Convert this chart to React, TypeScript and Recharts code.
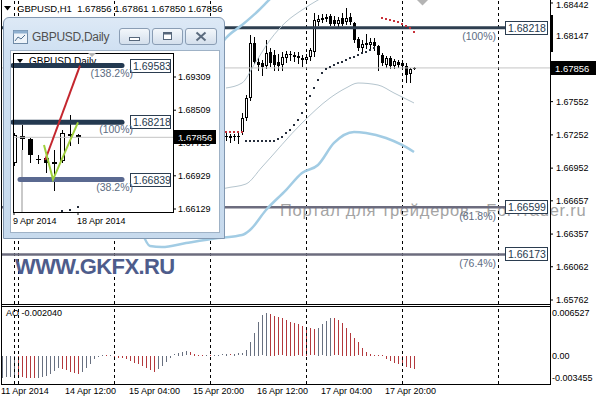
import React from 'react';
import { ComposedChart, Bar, Line, Scatter, XAxis, YAxis, ReferenceLine } from 'recharts';

const FONT = '"Liberation Sans", Arial, sans-serif';

// ================= GBPUSD H1 (main) =================
const candleIdx = [56, 57, 58, 59, 60, 61, 62, 63, 64, 65, 66, 67, 68, 69, 70, 71, 72, 73, 74, 75, 76, 77, 78, 79, 80, 81, 82, 83, 84, 85, 86, 87, 88, 89, 90, 91, 92, 93, 94, 95, 96, 97, 98, 99, 100, 101, 102, 103];
const opens = [
  1.67233, 1.67242, 1.67233, 1.67242, 1.67278, 1.67404, 1.67585, 1.68081, 1.67910, 1.67901,
  1.67874, 1.68000, 1.67973, 1.67910, 1.67883, 1.67946, 1.67973, 1.67973, 1.67964, 1.67946,
  1.67928, 1.67955, 1.68000, 1.68271, 1.68289, 1.68298, 1.68325, 1.68289, 1.68253, 1.68307,
  1.68271, 1.68316, 1.68262, 1.68117, 1.68036, 1.68081, 1.68063, 1.68090, 1.68054, 1.67973,
  1.67883, 1.67946, 1.67874, 1.67910, 1.67901, 1.67874, 1.67801, 1.67856];
const highs = [
  1.67269, 1.67260, 1.67260, 1.67278, 1.67449, 1.67612, 1.68153, 1.68135, 1.67946, 1.67928,
  1.68108, 1.68036, 1.68018, 1.67982, 1.68000, 1.68009, 1.68009, 1.68000, 1.68000, 1.67973,
  1.67982, 1.68036, 1.68352, 1.68334, 1.68343, 1.68343, 1.68343, 1.68325, 1.68316, 1.68352,
  1.68397, 1.68352, 1.68271, 1.68135, 1.68108, 1.68162, 1.68126, 1.68126, 1.68063, 1.67991,
  1.67964, 1.67964, 1.67937, 1.67928, 1.67928, 1.67901, 1.67856, 1.67861];
const lows = [
  1.67206, 1.67188, 1.67206, 1.67179, 1.67260, 1.67386, 1.67567, 1.67901, 1.67838, 1.67792,
  1.67856, 1.67874, 1.67838, 1.67838, 1.67838, 1.67910, 1.67928, 1.67919, 1.67901, 1.67874,
  1.67901, 1.67928, 1.67964, 1.68243, 1.68271, 1.68280, 1.68243, 1.68243, 1.68234, 1.68243,
  1.68253, 1.68253, 1.68090, 1.68018, 1.68000, 1.68036, 1.68036, 1.68018, 1.67838, 1.67883,
  1.67865, 1.67856, 1.67856, 1.67865, 1.67856, 1.67729, 1.67729, 1.67850];
const closes = [
  1.67242, 1.67224, 1.67242, 1.67233, 1.67404, 1.67585, 1.68081, 1.67910, 1.67883, 1.67865,
  1.67991, 1.67901, 1.67883, 1.67874, 1.67955, 1.67982, 1.67982, 1.67955, 1.67946, 1.67928,
  1.67955, 1.68018, 1.68289, 1.68298, 1.68307, 1.68316, 1.68253, 1.68253, 1.68289, 1.68253,
  1.68307, 1.68271, 1.68108, 1.68036, 1.68072, 1.68063, 1.68090, 1.68054, 1.67973, 1.67901,
  1.67946, 1.67874, 1.67919, 1.67883, 1.67874, 1.67792, 1.67847, 1.67856];

const priceTicks = [1.68442, 1.68147, 1.67552, 1.67252, 1.66952, 1.66657, 1.66357, 1.66062, 1.65762];
const priceDomain = [1.65726, 1.68469];
const lastPrice = 1.67856;
const titleText = 'GBPUSD,H1  1.67856 1.67861 1.67850 1.67856';

// Parabolic SAR
const sarDarkIdx = [61, 62, 63, 64, 65, 66, 67, 68, 69, 70, 71, 72, 73, 74, 75, 76, 77, 78, 79, 80, 81, 82, 83, 84, 85, 86, 87, 88, 89, 90, 91, 92, 93];
const sarDarkVal = [1.67197, 1.67197, 1.67197, 1.67197, 1.67197, 1.67197, 1.67197, 1.67197, 1.67215, 1.67233, 1.67269, 1.67296, 1.67341, 1.67386, 1.67449, 1.67531, 1.67603, 1.67675, 1.67747, 1.67810, 1.67846, 1.67865, 1.67883, 1.67901, 1.67910, 1.67928, 1.67946, 1.67955, 1.67973, 1.67991, 1.68000, 1.68018, 1.68036];
const sarRedIdx = [55, 56, 57, 58, 59, 60, 95, 96, 97, 98, 99, 100, 101, 102, 103];
const sarRedVal = [1.67278, 1.67278, 1.67278, 1.67278, 1.67278, 1.67278, 1.68307, 1.68298, 1.68289, 1.68280, 1.68271, 1.68253, 1.68234, 1.68216, 1.68180];

// Bollinger bands (thin & thick)
const bbThinUpIdx = [56, 60, 63, 67, 71, 75, 79, 84];
const bbThinUpVal = [1.67675, 1.67720, 1.67883, 1.68108, 1.68271, 1.68379, 1.68469, 1.68559];
const bbThinLoIdx = [54, 56, 61, 65, 75, 82, 86, 89, 94, 98, 103];
const bbThinLoVal = [1.66754, 1.66772, 1.66809, 1.66962, 1.67359, 1.67585, 1.67675, 1.67720, 1.67702, 1.67630, 1.67540];
const bbThickUpIdx = [55, 56, 60, 64, 67, 70];
const bbThickUpVal = [1.68081, 1.68126, 1.68243, 1.68370, 1.68478, 1.68577];
const bbThickLoIdx = [35, 37, 40, 46, 54, 60, 62, 66, 71, 75, 79, 83, 88, 91, 96, 100, 103];
const bbThickLoVal = [1.66375, 1.66249, 1.66240, 1.66276, 1.66321, 1.66348, 1.66394, 1.66574, 1.66754, 1.66908, 1.66980, 1.67179, 1.67278, 1.67269, 1.67224, 1.67161, 1.67097];

// Fibonacci levels
const fibLevels = [1.68218, 1.66599, 1.66173];
const fibNames = ['(100%)', '(61.8%)', '(76.4%)'];
const fibColors = ['#2e3f50', '#6c6c7e', '#6c6c7e'];
const fibWidths = [3, 2.5, 2.5];
const fibTagIdx = 125.75;

const separatorIdx = [3, 4, 28, 52, 76, 100, 124];

// ================= Awesome Oscillator =================
const aoValues = [
  -0.003455, -0.003300, -0.003150, -0.003050, -0.003150, -0.003250, -0.003320, -0.003380, -0.003420, -0.003350,
  -0.003300, -0.003000, -0.002700, -0.002300, -0.001900, -0.002000, -0.002200, -0.002400, -0.002600, -0.002700,
  -0.002400, -0.001800, -0.001200, -0.000500, -0.000100, 0.000040, 0.000030, 0.000060, -0.000150, -0.000250,
  -0.000350, -0.000450, -0.000700, -0.001000, -0.001300, -0.001600, -0.001900, -0.002200, -0.002400, -0.002000,
  -0.001500, -0.000900, -0.000300, 0.000200, 0.000400, 0.000550, 0.000650, 0.000500, 0.000300, 0.000100,
  0.000050, 0.000080, 0.000040, 0.000100, 0.000150, 0.000200, 0.000250, 0.000220, 0.000280, 0.000320,
  0.000380, 0.000900, 0.002100, 0.003500, 0.005200, 0.006200, 0.006527, 0.006400, 0.006100, 0.005900,
  0.005700, 0.005500, 0.005200, 0.005000, 0.004800, 0.004600, 0.004400, 0.004200, 0.004000, 0.004300,
  0.004800, 0.005300, 0.005800, 0.005700, 0.005400, 0.005000, 0.004300, 0.003500, 0.002700, 0.002000,
  0.001200, 0.000600, 0.000300, 0.000150, 0.000080, 0.000030, -0.000500, -0.000800, -0.001100, -0.001300,
  -0.001500, -0.001700, -0.001900, -0.002040];
const aoTicks = [0.006527, 0, -0.003455];
const aoDomain = [-0.004376, 0.007602];
const aoLabel = 'AO -0.002040';
const timeTickIdx = [0, 16, 32, 48, 64, 80, 96];
const timeTickLabels = ['11 Apr 2014', '14 Apr 12:00', '15 Apr 04:00', '15 Apr 20:00', '16 Apr 12:00', '17 Apr 04:00', '17 Apr 20:00'];

// ================= GBPUSD Daily (inset window) =================
const insetIdx = [0, 1, 2, 3, 4, 5, 6, 7, 8];
const insetOpen = [1.67237, 1.67888, 1.67815, 1.67309, 1.67358, 1.67213, 1.67285, 1.67888, 1.67912];
const insetHigh = [1.67960, 1.68153, 1.67839, 1.67430, 1.67502, 1.67550, 1.68032, 1.68394, 1.67936];
const insetLow = [1.67189, 1.67502, 1.67261, 1.67237, 1.67020, 1.66587, 1.67261, 1.67671, 1.67729];
const insetClose = [1.67912, 1.67815, 1.67430, 1.67334, 1.67237, 1.67261, 1.67960, 1.67936, 1.67856];
const insetTicks = [1.69309, 1.68509, 1.67729, 1.66929, 1.66129];
const insetDomain = [1.66057, 1.69887];
const insetDateIdx = [0, 8];
const insetDateLabels = ['9 Apr 2014', '18 Apr 2014'];
const insetFibLevels = [1.69583, 1.68218, 1.66839];
const insetFibNames = ['(138.2%)', '(100%)', '(38.2%)'];
const insetFibStart = [-0.125, -0.125, 0.75];
const insetFibColors = ['#233950', '#233950', '#5a6990'];
const insetFibEnd = 13.5;
const insetRedIdx = [3.9, 8.25];
const insetRedVal = [1.67309, 1.69583];
const insetGreenIdx = [3.75, 4.875, 8];
const insetGreenVal = [1.67671, 1.66839, 1.68218];
const insetSarIdx = [6, 7, 8];
const insetSarVal = [1.66081, 1.66105, 1.66177];
const insetTitle = 'GBPUSD,Daily';

// ================= helpers =================
const toPts = (key: string, idx: number[], val: number[]) => idx.map((v, n) => ({ [key]: v, p: val[n] }));

const candleRows = candleIdx.map((i, n) => ({ i, o: opens[n], h: highs[n], l: lows[n], c: closes[n], range: [lows[n], highs[n]] }));
const insetRows = insetIdx.map((k, n) => ({ k, o: insetOpen[n], h: insetHigh[n], l: insetLow[n], c: insetClose[n], range: [insetLow[n], insetHigh[n]] }));
const aoRows = aoValues.map((v, i) => ({ i, ao: v, col: i === 0 || v > aoValues[i - 1] ? '#687080' : '#b3383c' }));

const makeCandle = (bw: number) => (props: any) => {
  const { x, y, width, height, payload } = props;
  if (x == null || !payload) return null;
  const cx = Math.round(x + width / 2) + 0.5;
  const top = Math.min(y, y + height);
  const hh = Math.abs(height);
  const { o, c, h, l } = payload;
  const r = h - l > 0 ? hh / (h - l) : 0;
  const bt = Math.round(top + (h - Math.max(o, c)) * r);
  let bb = Math.round(top + (h - Math.min(o, c)) * r);
  if (bb - bt < 1) bb = bt + 1;
  const bull = c > o;
  return (
    <g>
      <line x1={cx} x2={cx} y1={Math.round(top)} y2={Math.round(top + hh) + 1} stroke="#000" strokeWidth={1} shapeRendering="crispEdges" />
      {bull ? (
        <rect x={cx - bw / 2 + 0.5} y={bt + 0.5} width={bw - 1} height={Math.max(bb - bt - 1, 0.01)} fill="#fff" stroke="#000" strokeWidth={1} shapeRendering="crispEdges" />
      ) : (
        <rect x={cx - bw / 2} y={bt} width={bw} height={bb - bt} fill="#000" shapeRendering="crispEdges" />
      )}
    </g>
  );
};
const MainCandle = makeCandle(3);
const InsetCandle = makeCandle(5);

const AoBar = (props: any) => {
  const { x, y, width, height, payload } = props;
  if (x == null || !payload) return null;
  const cx = Math.round(x + width / 2);
  const top = Math.min(y, y + height);
  const h = Math.max(Math.round(Math.abs(height)), 1);
  return <rect x={cx} y={Math.round(top)} width={1} height={h} fill={payload.col} shapeRendering="crispEdges" />;
};

const makeDot = (fill: string) => (props: any) => {
  const { cx, cy } = props;
  if (cx == null) return null;
  return <rect x={Math.round(cx) - 1} y={Math.round(cy) - 1} width={2} height={2} fill={fill} />;
};
const DarkDot = makeDot('#262e3c');
const RedDot = makeDot('#c8323a');

const DashV = (props: any) => {
  const { x1, y1, y2 } = props;
  if (x1 == null) return null;
  const x = Math.round(x1) + 0.5;
  return <line x1={x} x2={x} y1={y1} y2={y2} stroke="#000" strokeWidth={1} strokeDasharray="3 3" />;
};

const makeHLine = (color: string, w: number, cap: any) => (props: any) => {
  const { x1, y1, x2, y2 } = props;
  if (x1 == null) return null;
  return <line x1={x1} y1={y1} x2={x2} y2={y2} stroke={color} strokeWidth={w} strokeLinecap={cap} />;
};

const makePriceBox = (text: string, w: number, fs: number) => (props: any) => {
  const vb = props.viewBox;
  if (!vb) return null;
  const bx = vb.x + vb.width + 1;
  const yy = Math.round(vb.y);
  return (
    <g>
      <rect x={bx} y={yy - 7} width={w} height={14} fill="#000" />
      <text x={bx + 4} y={yy + 3.5} fill="#fff" fontSize={fs} fontFamily={FONT}>{text}</text>
    </g>
  );
};

const makeFibTag = (boxDx: number, boxW: number, nameDx: number, nameDy: number, fs: number) => (props: any) => {
  const { cx, cy, payload } = props;
  if (cx == null || !payload) return null;
  const bx = Math.round(cx + boxDx) + 0.5;
  const by = Math.round(cy) - 6.5;
  return (
    <g>
      <rect x={bx} y={by} width={boxW} height={13} fill="#fff" stroke="#2b3d50" strokeWidth={1} />
      <text x={bx + 2.5} y={by + 10.5} fill="#263a4e" fontSize={fs} fontFamily={FONT}>{payload.v}</text>
      <text x={cx + nameDx} y={cy + nameDy} fill="#5d6c82" fontSize={fs} fontFamily={FONT} textAnchor="end">{payload.name}</text>
    </g>
  );
};
const MainFibTag = makeFibTag(0, 42, -9, 12.5, 10.5);
const InsetFibTag = makeFibTag(8, 40, 11, 11, 10.5);

const makeTimeTick = (idx: number[], labels: string[]) => (props: any) => {
  const { x, y, payload } = props;
  const n = idx.indexOf(payload.value);
  if (n < 0) return null;
  return <text x={Math.round(x) - 1} y={y} dy="0.71em" fontSize={9} fontFamily={FONT} fill="#000" textAnchor="start">{labels[n]}</text>;
};
const TimeTick = makeTimeTick(timeTickIdx, timeTickLabels);
const InsetDateTick = makeTimeTick(insetDateIdx, insetDateLabels);

const makeValueTick = (fmt: (v: number) => string, minY: number) => (props: any) => {
  const { x, y, payload } = props;
  const yy = Math.max(y, minY);
  return <text x={x} y={yy} dy="0.355em" fontSize={9} fontFamily={FONT} fill="#000" textAnchor="start">{fmt(payload.value)}</text>;
};
const PriceTick = makeValueTick((v) => v.toFixed(5), 5);
const InsetPriceTick = makeValueTick((v) => v.toFixed(5), 0);
const AoTick = makeValueTick((v) => (v === 0 ? '0.00' : v.toFixed(6)), 0);

// ================= charts =================
function MainChart() {
  const fibTags = fibLevels.map((p, n) => ({ i: fibTagIdx, p, v: p.toFixed(5), name: fibNames[n] }));
  return (
    <ComposedChart width={596} height={305} data={candleRows} margin={{ top: 0, right: 0, bottom: 1, left: 2 }}>
      <XAxis type="number" dataKey="i" domain={[0, 137]} hide allowDataOverflow />
      <YAxis orientation="right" type="number" domain={priceDomain} ticks={priceTicks} interval={0} allowDataOverflow width={46}
        axisLine={false} tickLine={{ stroke: '#000' }} tickSize={3} tickMargin={3} tick={PriceTick} />
      {separatorIdx.map((s) => <ReferenceLine key={'s' + s} x={s} shape={DashV} />)}
      <ReferenceLine y={lastPrice} stroke="#c4c4c4" strokeWidth={1} label={makePriceBox(lastPrice.toFixed(5), 45, 9.5)} />
      {fibLevels.map((lv, n) => (
        <ReferenceLine key={'f' + n} segment={[{ x: 0, y: lv }, { x: fibTagIdx, y: lv }]} shape={makeHLine(fibColors[n], fibWidths[n], 'butt')} />
      ))}
      <Line data={toPts('i', bbThickLoIdx, bbThickLoVal)} dataKey="p" type="monotone" stroke="#a2cce4" strokeWidth={2.5} dot={false} isAnimationActive={false} />
      <Line data={toPts('i', bbThickUpIdx, bbThickUpVal)} dataKey="p" type="monotone" stroke="#a2cce4" strokeWidth={2.5} dot={false} isAnimationActive={false} />
      <Line data={toPts('i', bbThinLoIdx, bbThinLoVal)} dataKey="p" type="monotone" stroke="#b5c5ce" strokeWidth={1} dot={false} isAnimationActive={false} />
      <Line data={toPts('i', bbThinUpIdx, bbThinUpVal)} dataKey="p" type="monotone" stroke="#b5c5ce" strokeWidth={1} dot={false} isAnimationActive={false} />
      <Bar dataKey="range" barSize={3} shape={MainCandle} isAnimationActive={false} />
      <Scatter data={toPts('i', sarDarkIdx, sarDarkVal)} dataKey="p" shape={DarkDot} isAnimationActive={false} />
      <Scatter data={toPts('i', sarRedIdx, sarRedVal)} dataKey="p" shape={RedDot} isAnimationActive={false} />
      <Scatter data={fibTags} dataKey="p" shape={MainFibTag} isAnimationActive={false} />
    </ComposedChart>
  );
}

function AoChart() {
  return (
    <ComposedChart width={596} height={96} data={aoRows} margin={{ top: 2, right: 0, bottom: 0, left: 2 }}>
      <XAxis type="number" dataKey="i" domain={[0, 137]} allowDataOverflow ticks={timeTickIdx} interval={0} height={16}
        axisLine={false} tickLine={false} tickSize={0} tickMargin={4} tick={TimeTick} />
      <YAxis orientation="right" type="number" domain={aoDomain} ticks={aoTicks} interval={0} allowDataOverflow width={46}
        axisLine={false} tickLine={false} tickSize={0} tickMargin={2} tick={AoTick} />
      {separatorIdx.map((s) => <ReferenceLine key={'s' + s} x={s} shape={DashV} />)}
      <Bar dataKey="ao" barSize={1} shape={AoBar} isAnimationActive={false} />
    </ComposedChart>
  );
}

function InsetChart() {
  const tags = insetFibLevels.map((p, n) => ({ k: insetFibEnd, p, v: p.toFixed(5), name: insetFibNames[n] }));
  return (
    <ComposedChart width={208} height={181} data={insetRows} margin={{ top: 2, right: 0, bottom: 0, left: 2 }}>
      <XAxis type="number" dataKey="k" domain={[-0.125, 19.875]} allowDataOverflow ticks={insetDateIdx} interval={0} height={20}
        axisLine={false} tickLine={{ stroke: '#000' }} tickSize={3} tickMargin={3} tick={InsetDateTick} />
      <YAxis orientation="right" type="number" domain={insetDomain} ticks={insetTicks} interval={0} allowDataOverflow width={46}
        axisLine={false} tickLine={{ stroke: '#000' }} tickSize={3} tickMargin={2} tick={InsetPriceTick} />
      <ReferenceLine segment={[{ x: 1, y: 1.6755 }, { x: 1, y: insetDomain[0] }]} shape={makeHLine('#c9c9c9', 2, 'butt')} />
      <ReferenceLine y={lastPrice} stroke="#c4c4c4" strokeWidth={1} label={makePriceBox(lastPrice.toFixed(5), 42, 9.5)} />
      {insetFibLevels.map((lv, n) => (
        <ReferenceLine key={'if' + n} segment={[{ x: insetFibStart[n], y: lv }, { x: insetFibEnd, y: lv }]} shape={makeHLine(insetFibColors[n], 5, 'round')} />
      ))}
      <Line data={toPts('k', insetRedIdx, insetRedVal)} dataKey="p" type="linear" stroke="#c4262e" strokeWidth={2} dot={false} isAnimationActive={false} />
      <Line data={toPts('k', insetGreenIdx, insetGreenVal)} dataKey="p" type="linear" stroke="#9fd03c" strokeWidth={2} dot={false} isAnimationActive={false} />
      <Bar dataKey="range" barSize={5} shape={InsetCandle} isAnimationActive={false} />
      <Scatter data={toPts('k', insetSarIdx, insetSarVal)} dataKey="p" shape={DarkDot} isAnimationActive={false} />
      <Scatter data={tags} dataKey="p" shape={InsetFibTag} isAnimationActive={false} />
    </ComposedChart>
  );
}

const abs = (l: number, t: number, extra: any = {}) => ({ position: 'absolute' as const, left: l, top: t, ...extra });

const btnStyle = (l: number, w: number) => abs(l, 10, {
  width: w, height: 17, boxSizing: 'border-box', border: '1px solid #8a9db4', borderRadius: 3,
  background: 'linear-gradient(to bottom, #f3f7fb, #d4dfec)',
});

export default function App() {
  return (
    <div style={abs(0, 0, { width: 596, height: 400, background: '#fff', overflow: 'hidden', fontFamily: FONT })}>
      {/* watermark (behind chart) */}
      <div style={abs(280, 201, { fontSize: 16.5, lineHeight: '18px', color: '#a4a4a4', letterSpacing: 0.75, whiteSpace: 'nowrap' })}>
        Портал для трейдеров - ForTrader.ru
      </div>

      <div style={abs(0, 0)}><MainChart /></div>
      <div style={abs(0, 304)}><AoChart /></div>

      {/* frames */}
      <div style={abs(1, 0, { width: 1, height: 384, background: '#000' })} />
      <div style={abs(550, 0, { width: 1, height: 385, background: '#000' })} />
      <div style={abs(1, 304, { width: 550, height: 1, background: '#000' })} />
      <div style={abs(1, 306, { width: 550, height: 1, background: '#000' })} />
      <div style={abs(1, 384, { width: 550, height: 1, background: '#000' })} />
      <div style={abs(550, 15, { width: 3, height: 37, background: '#000' })} />
      <svg style={abs(417, 0)} width={12} height={6}><polygon points="0,0 11,0 5.5,5.5" fill="#b4b4b4" /></svg>

      {/* main title */}
      <svg style={abs(4, 6)} width={7} height={5}><polygon points="0,0 7,0 3.5,4.5" fill="#000" /></svg>
      <div style={abs(17, 3, { fontSize: 9.5, lineHeight: '12px', color: '#000', whiteSpace: 'pre' })}>{titleText}</div>

      {/* AO label */}
      <div style={abs(6, 308, { fontSize: 9, lineHeight: '11px', color: '#000', whiteSpace: 'pre' })}>{aoLabel}</div>

      {/* brand */}
      <div style={abs(15, 256, { fontSize: 22, lineHeight: '22px', fontWeight: 700, color: '#4e5c8b', letterSpacing: -0.6, whiteSpace: 'nowrap' })}>
        WWW.GKFX.RU
      </div>

      {/* inset window */}
      <div style={abs(3, 17, {
        width: 222, height: 222, boxSizing: 'border-box', border: '1px solid #8197b0', borderRadius: '6px 6px 0 0',
        background: 'linear-gradient(to bottom, #dde9f6 0px, #cfe0f2 34px, #c7daed 100%)',
      })}>
        <svg style={abs(9, 12)} width={15} height={14}>
          <rect x={0.5} y={0.5} width={14} height={13} fill="#eef4fa" stroke="#6f8aa6" />
          <rect x={0.5} y={0.5} width={14} height={3} fill="#8fb0d0" />
          <polyline points="2,11 5,7 8,9 12,5" fill="none" stroke="#4f6f90" strokeWidth={1} />
        </svg>
        <div style={abs(28, 11, { fontSize: 12, lineHeight: '16px', color: '#505050', letterSpacing: -0.3, whiteSpace: 'nowrap' })}>{insetTitle}</div>
        <div style={btnStyle(115, 31)}>
          <svg width={29} height={15}><rect x={9.5} y={8.5} width={10} height={3} fill="#fff" stroke="#56677b" /></svg>
        </div>
        <div style={btnStyle(148, 31)}>
          <svg width={29} height={15}><rect x={10.5} y={3.5} width={8} height={7} fill="#fff" stroke="#56677b" /><rect x={10.5} y={3.5} width={8} height={2} fill="#56677b" /></svg>
        </div>
        <div style={btnStyle(181, 32)}>
          <svg width={30} height={15}>
            <line x1={10.5} y1={3.5} x2={19.5} y2={11.5} stroke="#5b6b7e" strokeWidth={2} />
            <line x1={19.5} y1={3.5} x2={10.5} y2={11.5} stroke="#5b6b7e" strokeWidth={2} />
          </svg>
        </div>

        {/* client area */}
        <div style={abs(7, 33, { width: 208, height: 181, background: '#fff', outline: '1px solid #9fb2c6', overflow: 'hidden' })}>
          <svg style={abs(6, 8)} width={6} height={5}><polygon points="0,0 6,0 3,4" fill="#000" /></svg>
          <div style={abs(18, 5, { fontSize: 10, lineHeight: '12px', color: '#000', whiteSpace: 'nowrap' })}>{insetTitle}</div>
          <div style={abs(0, 0)}><InsetChart /></div>
          <div style={abs(2, 2, { width: 161, height: 160, boxSizing: 'border-box', border: '1px solid #000' })} />
          <svg style={abs(77, 2)} width={9} height={5}><polygon points="0,0 8,0 4,4" fill="#b4b4b4" /></svg>
        </div>
      </div>
    </div>
  );
}
